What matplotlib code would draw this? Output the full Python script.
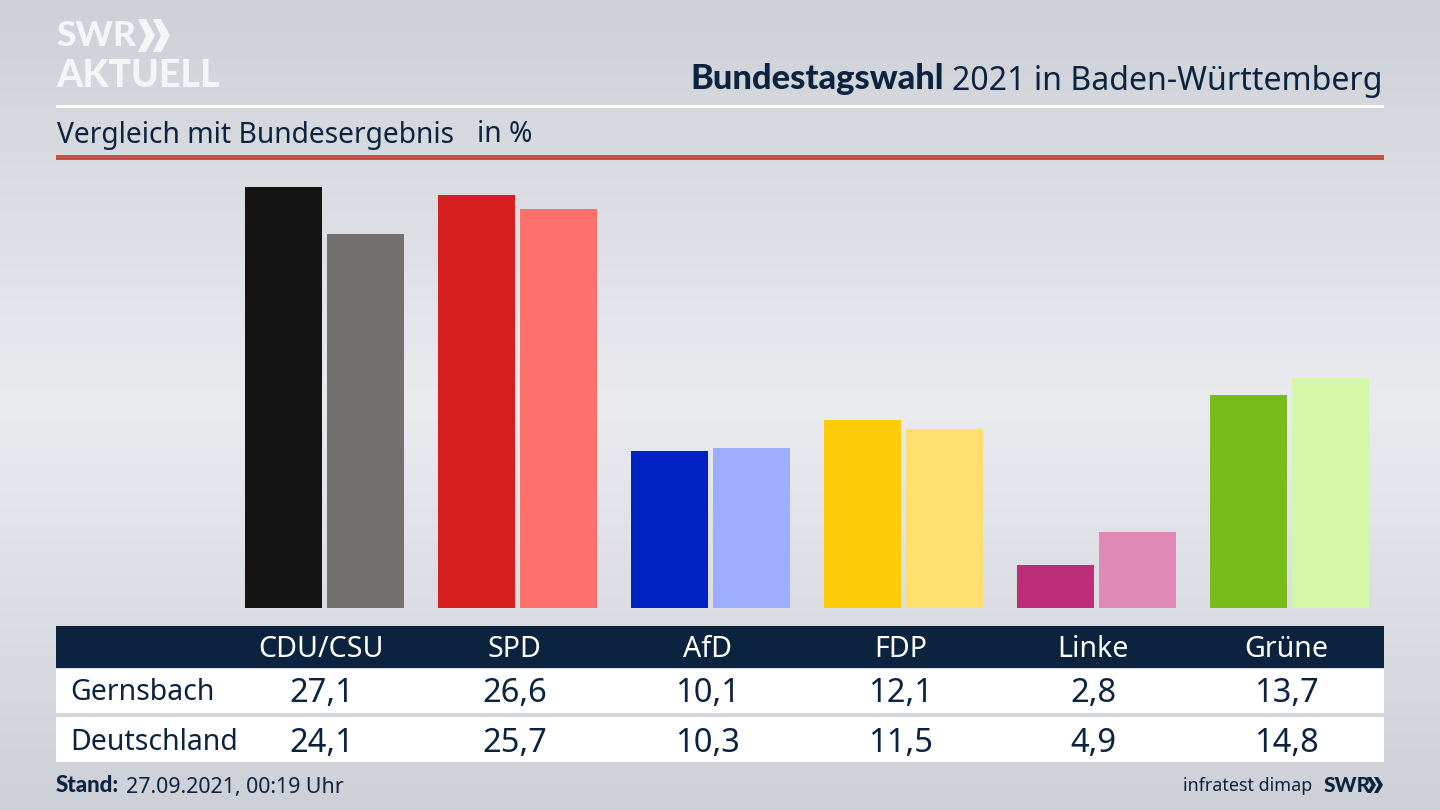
import numpy as np
from matplotlib import pyplot as plt
from matplotlib.patches import Polygon, Rectangle

parties = ["CDU/CSU", "SPD", "AfD", "FDP", "Linke", "Grüne"]
gernsbach = [27.1, 26.6, 10.1, 12.1, 2.8, 13.7]
deutschland = [24.1, 25.7, 10.3, 11.5, 4.9, 14.8]
colors_local = ["#141414", "#d6201f", "#0022c4", "#ffcc0a", "#bc2f78", "#78bc1c"]
colors_federal = ["#72716e", "#ff716c", "#9fadff", "#ffe06e", "#e088b6", "#d3f6a8"]
row_labels = ["Gernsbach", "Deutschland"]

navy = "#0c2340"
logo_white = "#f4f5f7"
W, H = 1440, 810

plt.rcParams["font.family"] = ["Noto Sans", "DejaVu Sans"]
fig = plt.figure(figsize=(W / 100, H / 100), dpi=100)

# background + furniture are laid out in image pixels
bg = fig.add_axes([0, 0, 1, 1])
bg.set_xlim(0, W)
bg.set_ylim(H, 0)
bg.axis("off")
gradient = np.abs(np.linspace(-1, 1, 256)).reshape(-1, 1)
shade = np.array([233, 235, 239]) + gradient[..., None] * (np.array([205, 208, 214]) - np.array([233, 235, 239]))
bg.imshow(shade.astype(np.uint8), extent=(0, W, H, 0), aspect="auto", zorder=0)

bg.add_patch(Rectangle((56, 105), 1327.5, 2.5, color="white", lw=0, zorder=1))
bg.add_patch(Rectangle((56, 155), 1327.5, 5, color="#c9503c", lw=0, zorder=1))
bg.add_patch(Rectangle((56, 626), 1327.5, 42, color=navy, lw=0, zorder=1))
bg.add_patch(Rectangle((56, 669), 1327.5, 44, color="white", lw=0, zorder=1))
bg.add_patch(Rectangle((56, 717), 1327.5, 45, color="white", lw=0, zorder=1))

# logo
bg.text(56, 36.5, "SWR", color=logo_white, fontsize=25.5, fontweight="black", va="center", ha="left",
        family="Lato")
bg.text(56, 76, "AKTUELL", color=logo_white, fontsize=27, fontweight="black", va="center", ha="left",
        family="Lato")
for dx in (0, 15):
    bg.add_patch(Polygon([(138 + dx, 19), (146 + dx, 19), (155 + dx, 35.5), (146 + dx, 52), (138 + dx, 52), (146 + dx, 35.5)],
                         color=logo_white, lw=0, zorder=2))

# headline
title_right = bg.text(1383, 81, "2021 in Baden-Württemberg", color=navy, fontsize=23.1, ha="right", va="center")
fig.canvas.draw()
box = title_right.get_window_extent()
bg.text(box.x0 - 9, 79, "Bundestagswahl", color=navy, fontsize=24.8, fontweight="black", family="Lato",
        ha="right", va="center")
bg.text(57, 135, "Vergleich mit Bundesergebnis", color=navy, fontsize=20.3, ha="left", va="center")
bg.text(477, 135, "in %", color=navy, fontsize=20.3, ha="left", va="center")

# bars
ax = fig.add_axes([56 / W, (H - 608) / H, 1328 / W, 438 / H])
ax.patch.set_alpha(0)
x = np.arange(len(parties))
ax.bar(x - 41 / 193, gernsbach, width=77 / 193, color=colors_local)
ax.bar(x + 41 / 193, deutschland, width=77 / 193, color=colors_federal)
ax.set_xlim(-268.5 / 193, 1059.5 / 193)
ax.set_ylim(0, 438 / 15.53)
ax.axis("off")

# table text, columns line up with the bars
for i, party in enumerate(parties):
    px = 321.5 + i * 193
    bg.text(px, 649.5, party, color="white", fontsize=20.6, ha="center", va="center")
    bg.text(px, 694, f"{gernsbach[i]:.1f}".replace(".", ","), color=navy, fontsize=23.5, ha="center", va="center")
    bg.text(px, 744, f"{deutschland[i]:.1f}".replace(".", ","), color=navy, fontsize=23.5, ha="center", va="center")
bg.text(70, 693, row_labels[0], color=navy, fontsize=20.5, ha="left", va="center")
bg.text(70, 743, row_labels[1], color=navy, fontsize=20.5, ha="left", va="center")

# footer
bg.text(56, 786, "Stand:", color=navy, fontsize=16, fontweight="black", family="Lato", ha="left", va="center")
bg.text(126, 787, "27.09.2021, 00:19 Uhr", color=navy, fontsize=15.4, ha="left", va="center")
bg.text(1312, 786, "infratest dimap", color=navy, fontsize=12.9, ha="right", va="center")
bg.text(1324, 785, "SWR", color=navy, fontsize=15, fontweight="black", ha="left", va="center",
        family="Lato")
for dx in (0, 7):
    bg.add_patch(Polygon([(1367 + dx, 777), (1371 + dx, 777), (1376 + dx, 785), (1371 + dx, 793), (1367 + dx, 793), (1371.5 + dx, 785)],
                         color=navy, lw=0, zorder=2))

fig.savefig("out.png", dpi=100)
